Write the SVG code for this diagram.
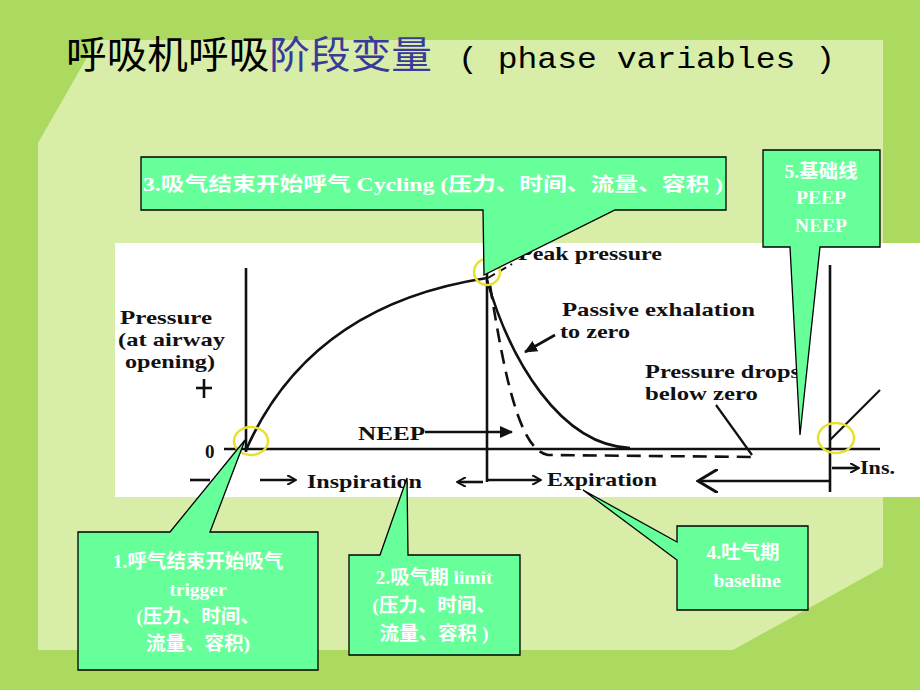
<svg xmlns="http://www.w3.org/2000/svg" width="920" height="690" viewBox="0 0 920 690">
<style>
.call{fill:#66ff99;stroke:#000;stroke-width:1.3}
.ct{fill:#fff;font-family:"Liberation Serif","Noto Sans CJK SC",serif;font-size:19.5px;font-weight:bold;text-anchor:middle}
.g{font-family:"Liberation Serif",serif;font-weight:bold;font-size:19px;fill:#111}
.ln{stroke:#111;stroke-width:2.6;fill:none}
.yc{fill:none;stroke:#e8e030;stroke-width:2.5}
</style>
<defs>
<marker id="ah" markerWidth="10" markerHeight="10" refX="8" refY="5" orient="auto" markerUnits="userSpaceOnUse"><path d="M0,0 L9,5 L0,10" fill="none" stroke="#111" stroke-width="2"/></marker>
<marker id="af" markerWidth="14" markerHeight="12" refX="12" refY="6" orient="auto" markerUnits="userSpaceOnUse"><path d="M0,0 L13,6 L0,12 Z" fill="#111"/></marker>
<marker id="abig" markerWidth="22" markerHeight="24" refX="20" refY="12" orient="auto" markerUnits="userSpaceOnUse"><path d="M0,0 L20,12 L0,24" fill="none" stroke="#111" stroke-width="3"/></marker>
</defs>
<rect width="920" height="690" fill="#acd95f"/>
<polygon points="97,40 883,40 883,567 733,650 38,650 38,143" fill="#d8eea8"/>
<text x="66" y="68" font-family="'Noto Sans CJK SC',sans-serif" font-size="38" fill="#000" textLength="366" lengthAdjust="spacingAndGlyphs">呼吸机呼吸<tspan fill="#3a3a9a">阶段变量</tspan></text>
<text x="458" y="68" font-family="'Liberation Mono',monospace" font-size="30" fill="#000" textLength="377" lengthAdjust="spacingAndGlyphs">( phase variables )</text>
<g id="graph">
<rect x="115" y="243" width="805" height="254" fill="#fff"/>
<g class="ln">
<line x1="246" y1="268" x2="246" y2="452"/>
<line x1="224" y1="449" x2="880" y2="449"/>
<line x1="487" y1="268" x2="487" y2="482"/>
<line x1="830" y1="265" x2="830" y2="492"/>
<path d="M246,450 Q310,305 487,278"/>
<path d="M487,280 C510,360 560,445 630,448"/>
<path d="M490,285 C505,380 520,450 548,455 L755,457" stroke-dasharray="14,8"/>
<line x1="716" y1="405" x2="752" y2="455" stroke-width="2.2"/>
<line x1="830" y1="440" x2="880" y2="390" stroke-width="2.2"/>
<line x1="488" y1="278" x2="512" y2="264" stroke-dasharray="8,5" stroke-width="2"/>
</g>
<g class="ln" stroke-width="2">
<line x1="425" y1="432" x2="512" y2="432" marker-end="url(#af)"/>
<line x1="555" y1="335" x2="525" y2="352" marker-end="url(#af)"/>
<line x1="260" y1="480" x2="295" y2="480" marker-end="url(#ah)"/>
<line x1="483" y1="482" x2="458" y2="482" marker-end="url(#ah)"/>
<line x1="487" y1="480" x2="540" y2="480" marker-end="url(#ah)"/>
<line x1="830" y1="481" x2="698" y2="481" marker-end="url(#abig)"/>
<line x1="832" y1="468" x2="858" y2="468" marker-end="url(#ah)"/>
<line x1="190" y1="480" x2="210" y2="480"/>
<line x1="196" y1="388" x2="212" y2="388"/>
<line x1="204" y1="379" x2="204" y2="398"/>
</g>
<text class="g" x="120" y="324" textLength="92" lengthAdjust="spacingAndGlyphs">Pressure</text>
<text class="g" x="118" y="346" textLength="107" lengthAdjust="spacingAndGlyphs">(at airway</text>
<text class="g" x="125" y="368" textLength="90" lengthAdjust="spacingAndGlyphs">opening)</text>
<text class="g" x="205" y="458">0</text>
<text class="g" x="358" y="440" textLength="67" lengthAdjust="spacingAndGlyphs">NEEP</text>
<text class="g" x="518" y="260" textLength="144" lengthAdjust="spacingAndGlyphs">Peak pressure</text>
<text class="g" x="562" y="316" textLength="193" lengthAdjust="spacingAndGlyphs">Passive exhalation</text>
<text class="g" x="560" y="338" textLength="70" lengthAdjust="spacingAndGlyphs">to zero</text>
<text class="g" x="645" y="378" textLength="155" lengthAdjust="spacingAndGlyphs">Pressure drops</text>
<text class="g" x="645" y="400" textLength="113" lengthAdjust="spacingAndGlyphs">below zero</text>
<text class="g" x="307" y="488" textLength="115" lengthAdjust="spacingAndGlyphs">Inspiration</text>
<text class="g" x="547" y="486" textLength="110" lengthAdjust="spacingAndGlyphs">Expiration</text>
<text class="g" x="860" y="474" textLength="35" lengthAdjust="spacingAndGlyphs">Ins.</text>
<ellipse class="yc" cx="251" cy="441" rx="17" ry="14"/>
<ellipse class="yc" cx="487" cy="272" rx="13" ry="13"/>
<ellipse class="yc" cx="836" cy="438" rx="18" ry="15"/>
</g>
<g id="c3"><path class="call" d="M141,157 H726 V210 H615 L484,275 L483,210 H141 Z"/><text class="ct" x="433" y="191" textLength="580" lengthAdjust="spacingAndGlyphs">3.吸气结束开始呼气  Cycling (压力、时间、流量、容积 )</text></g>
<g id="c5"><path class="call" d="M763,150 H880 V247 H820 L800,435 L790,247 H763 Z"/><text class="ct" x="821" y="178">5.基础线</text><text class="ct" x="821" y="204">PEEP</text><text class="ct" x="821" y="232">NEEP</text></g>
<g id="c1"><path class="call" d="M78,532 H170 L245,440 L210,532 H318 V670 H78 Z"/><text class="ct" x="198" y="568">1.呼气结束开始吸气</text><text class="ct" x="198" y="596">trigger</text><text class="ct" x="198" y="623">(压力、时间、</text><text class="ct" x="198" y="650">流量、容积)</text></g>
<g id="c2"><path class="call" d="M349,555 H380 L407,478 L408,555 H520 V655 H349 Z"/><text class="ct" x="434" y="584">2.吸气期  limit</text><text class="ct" x="434" y="612">(压力、时间、</text><text class="ct" x="434" y="640">流量、容积 )</text></g>
<g id="c4"><path class="call" d="M677,526 H808 V610 H677 V560 L583,490 L677,542 Z"/><text class="ct" x="743" y="559">4.吐气期</text><text class="ct" x="747" y="587">baseline</text></g>
</svg>
